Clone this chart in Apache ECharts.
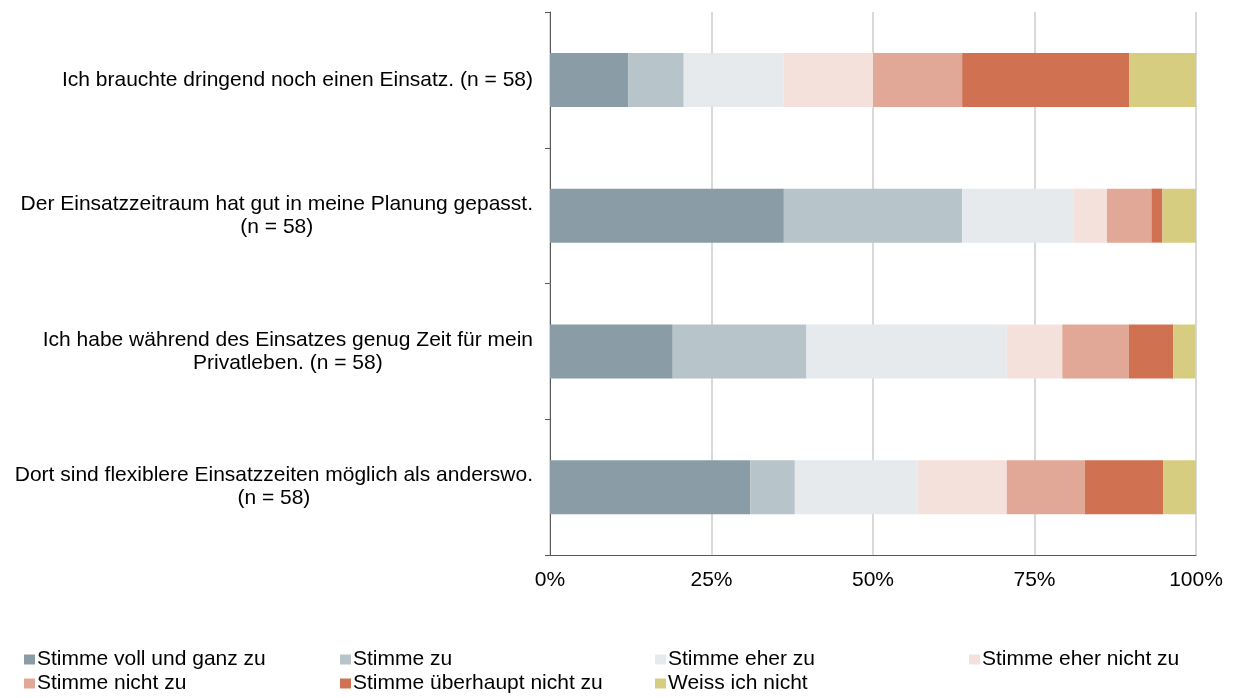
<!DOCTYPE html>
<html>
<head>
<meta charset="utf-8">
<script src="https://cdn.jsdelivr.net/npm/echarts@6/dist/echarts.min.js"></script>
<style>
html,body{margin:0;padding:0;background:#fff;}
#chart{width:1234px;height:698px;}
</style>
</head>
<body>
<div id="chart"></div>
<script>
const categories = [
  "Ich brauchte dringend noch einen Einsatz. (n = 58)",
  "Der Einsatzzeitraum hat gut in meine Planung gepasst.\n(n = 58)",
  "Ich habe während des Einsatzes genug Zeit für mein\nPrivatleben. (n = 58)",
  "Dort sind flexiblere Einsatzzeiten möglich als anderswo.\n(n = 58)"
];
const seriesNames = [
  "Stimme voll und ganz zu",
  "Stimme zu",
  "Stimme eher zu",
  "Stimme eher nicht zu",
  "Stimme nicht zu",
  "Stimme überhaupt nicht zu",
  "Weiss ich nicht"
];
const vollUndGanz   = [12.1, 36.2, 19.0, 31.0];
const stimmeZu      = [8.6, 27.6, 20.7, 6.9];
const eherZu        = [15.5, 17.2, 31.0, 19.0];
const eherNichtZu   = [13.8, 5.2, 8.6, 13.8];
const nichtZu       = [13.8, 6.9, 10.3, 12.1];
const ueberhauptNicht = [25.9, 1.7, 6.9, 12.1];
const weissNicht    = [10.3, 5.2, 3.4, 5.2];
const xTickLabels = ["0%", "25%", "50%", "75%", "100%"];

const values = [vollUndGanz, stimmeZu, eherZu, eherNichtZu, nichtZu, ueberhauptNicht, weissNicht];
const colors = ["#8A9CA6", "#B7C4CA", "#E6EAED", "#F5E1DC", "#E2A897", "#D07252", "#D6CD80"];

const legendPos = [
  [24, 648], [340, 648], [655, 648], [969, 648],
  [24, 672], [340, 672], [655, 672]
];

const font = "Liberation Sans, Arial, sans-serif";
const fs = 21;

const chart = echarts.init(document.getElementById('chart'), null, {renderer: 'canvas'});
chart.setOption({
  animation: false,
  color: colors,
  grid: {left: 550, right: 38, top: 12, bottom: 143, containLabel: false},
  xAxis: {
    type: 'value', min: 0, max: 100, interval: 25,
    axisLine: {show: true, lineStyle: {color: '#595959', width: 1}},
    axisTick: {show: false},
    splitLine: {show: true, lineStyle: {color: '#D9D9D9', width: 2}},
    axisLabel: {
      margin: 15, fontSize: fs, color: '#000', fontFamily: font,
      formatter: function (v) { return xTickLabels[Math.round(v / 25)]; }
    }
  },
  yAxis: {
    type: 'category', data: categories, inverse: true,
    axisLine: {show: true, lineStyle: {color: '#595959', width: 1}},
    axisTick: {show: true, length: 5, lineStyle: {color: '#595959'}},
    axisLabel: {
      margin: 17, fontSize: fs, color: '#000', fontFamily: font, lineHeight: 23,
      formatter: function (v) {
        return v.split('\n').map(function (l) { return '{c|' + l + '}'; }).join('\n');
      },
      rich: {c: {align: 'center', fontSize: fs, color: '#000', fontFamily: font, lineHeight: 23}}
    }
  },
  legend: seriesNames.map(function (n, i) {
    return {
      data: [n], left: legendPos[i][0], top: legendPos[i][1],
      icon: 'rect', itemWidth: 11, itemHeight: 10, itemGap: 0, padding: 0,
      selectedMode: false,
      textStyle: {fontSize: fs, lineHeight: 23, color: '#000', fontFamily: font, padding: [0, 0, 0, -3]}
    };
  }),
  series: seriesNames.map(function (n, i) {
    return {
      name: n, type: 'bar', stack: 'total', data: values[i],
      barWidth: 54,
      itemStyle: {color: colors[i]}
    };
  })
});
</script>
</body>
</html>
